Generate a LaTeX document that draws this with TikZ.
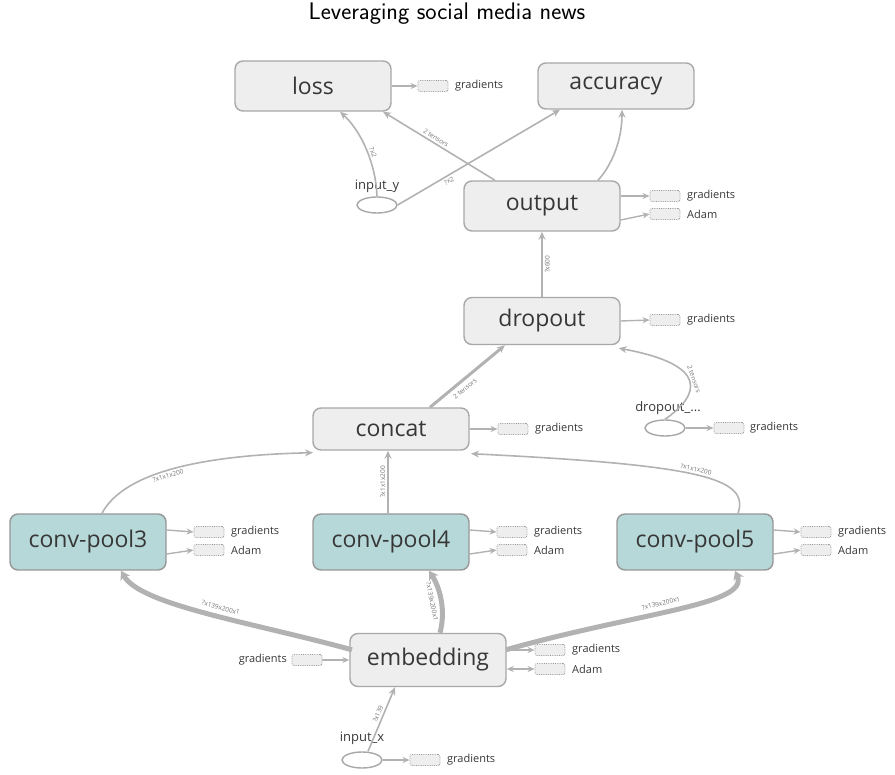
\documentclass[tikz,border=0pt]{standalone}
\usepackage{fontspec}
\newfontfamily\nodefont{Open Sans}
\usetikzlibrary{arrows.meta,shapes.geometric}
\definecolor{edgegray}{RGB}{178,178,178}
\definecolor{boxborder}{RGB}{168,168,168}
\definecolor{boxfill}{RGB}{238,238,238}
\definecolor{tealfill}{RGB}{182,216,216}
\definecolor{txt}{RGB}{55,55,55}
\tikzset{
  opbox/.style={draw=boxborder, line width=1.4pt, fill=boxfill, rounded corners=8pt,
    minimum width=156pt, minimum height=50pt, font=\nodefont\fontsize{23}{25}\selectfont, text=txt, inner sep=0pt},
  convbox/.style={opbox, fill=tealfill, draw=boxborder!90!black, minimum height=56pt},
  aux/.style={draw=gray!80, line width=0.8pt, densely dotted, fill=boxfill, rounded corners=2pt,
    minimum width=30pt, minimum height=11pt, inner sep=0pt},
  auxlab/.style={font=\nodefont\fontsize{11}{12}\selectfont, text=txt, anchor=west, inner sep=0pt},
  inoval/.style={draw=boxborder, line width=1.4pt, ellipse, minimum width=40pt, minimum height=16pt, inner sep=0pt},
  ovallab/.style={font=\nodefont\fontsize{13}{14}\selectfont, text=txt, inner sep=0pt},
  edge/.style={draw=edgegray, line width=1.6pt, -{Stealth[length=8pt,width=7pt]}},
  thickedge/.style={draw=edgegray, line width=5pt, -{Stealth[length=9pt,width=11pt]}},
  auxedge/.style={draw=edgegray, line width=1.4pt, -{Stealth[length=7pt,width=6pt]}},
  elab/.style={font=\nodefont\fontsize{6.5}{7}\selectfont, text=gray!90!black, sloped, inner sep=2pt}
}
\begin{document}
\begin{tikzpicture}[x=1pt,y=-1pt]
\useasboundingbox (0,0) rectangle (895,775);
\node[font=\sffamily\fontsize{24}{26}\selectfont] (title) at (447,14) {Leveraging social media news};

% main nodes
\node[opbox] (loss) at (313,86) {loss};
\node[opbox, minimum height=46pt] (acc) at (616,86) {accuracy};
\node[opbox] (out) at (542,206) {output};
\node[opbox, minimum height=47pt] (drop) at (542,321) {dropout};
\node[opbox, minimum height=42pt] (concat) at (391,429) {concat};
\node[convbox] (c3) at (88,542) {conv-pool3};
\node[convbox] (c4) at (391,542) {conv-pool4};
\node[convbox] (c5) at (695,542) {conv-pool5};
\node[opbox, minimum height=53pt] (emb) at (428,660) {embedding};

% input ovals
\node[inoval] (iy) at (377,205) {};
\node[ovallab] (iylab) at (377,186) {input\_y};
\node[inoval] (dd) at (665,428) {};
\node[ovallab] (ddlab) at (668,408) {dropout\_...};
\node[inoval] (ix) at (362,760) {};
\node[ovallab] (ixlab) at (362,738) {input\_x};

% aux boxes
\node[aux] (lossg) at (433,86) {};
\node[auxlab] (lossgl) at (455,86) {gradients};
\node[aux] (outg) at (665,196) {};
\node[auxlab] (outgl) at (687,196) {gradients};
\node[aux] (outa) at (665,214) {};
\node[auxlab] (outal) at (687,214) {Adam};
\node[aux] (dropg) at (665,320) {};
\node[auxlab] (dropgl) at (687,320) {gradients};
\node[aux] (ddg) at (729,428) {};
\node[auxlab] (ddgl) at (750,428) {gradients};
\node[aux] (concg) at (513,429) {};
\node[auxlab] (concgl) at (535,429) {gradients};
\node[aux] (c3g) at (209,532) {};
\node[auxlab] (c3gl) at (231,532) {gradients};
\node[aux] (c3a) at (209,550) {};
\node[auxlab] (c3al) at (231,550) {Adam};
\node[aux] (c4g) at (512,532) {};
\node[auxlab] (c4gl) at (534,532) {gradients};
\node[aux] (c4a) at (512,550) {};
\node[auxlab] (c4al) at (534,550) {Adam};
\node[aux] (c5g) at (816,532) {};
\node[auxlab] (c5gl) at (838,532) {gradients};
\node[aux] (c5a) at (816,550) {};
\node[auxlab] (c5al) at (838,550) {Adam};
\node[aux] (embgl) at (307,660) {};
\node[auxlab, anchor=east] (embgll) at (287,660) {gradients};
\node[aux] (embg) at (550,650) {};
\node[auxlab] (embgrl) at (572,650) {gradients};
\node[aux] (emba) at (550,669) {};
\node[auxlab] (embal) at (572,669) {Adam};
\node[aux] (ixg) at (425,760) {};
\node[auxlab] (ixgl) at (447,760) {gradients};

% aux connectors
\draw[auxedge] (loss.east) -- (lossg.west);
\draw[auxedge] ([yshift=10]out.east) -- (outg.west);
\draw[auxedge] ([yshift=-14]out.east) -- (outa.west);
\draw[auxedge] (drop.east) -- (dropg.west);
\draw[auxedge] (dd.east) -- (ddg.west);
\draw[auxedge] (concat.east) -- (concg.west);
\draw[auxedge] ([yshift=12]c3.east) -- (c3g.west);
\draw[auxedge] ([yshift=-12]c3.east) -- (c3a.west);
\draw[auxedge] ([yshift=12]c4.east) -- (c4g.west);
\draw[auxedge] ([yshift=-12]c4.east) -- (c4a.west);
\draw[auxedge] ([yshift=12]c5.east) -- (c5g.west);
\draw[auxedge] ([yshift=-12]c5.east) -- (c5a.west);
\draw[auxedge] (embgl.east) -- (emb.west);
\draw[auxedge] ([yshift=10]emb.east) -- (embg.west);
\draw[auxedge, {Stealth[length=7pt,width=6pt]}-{Stealth[length=7pt,width=6pt]}] ([yshift=-9]emb.east) -- (emba.west);
\draw[auxedge] (ix.east) -- (ixg.west);

% main connectors
\draw[edge] (iy.north) .. controls (376,165) and (362,132) .. ([xshift=27]loss.south)
  node[elab, pos=0.45, above] {?x2};
\draw[edge] ([xshift=-47]out.north) -- ([xshift=70]loss.south)
  node[elab, pos=0.55, above] {2 tensors};
\draw[edge] (iy.east) -- ([xshift=-56]acc.south)
  node[elab, pos=0.3, below] {?x2};
\draw[edge] ([xshift=56]out.north) .. controls (612,165) and (622,140) .. ([xshift=6]acc.south);
\draw[edge] (drop.north) -- (out.south)
  node[elab, midway, below] {?x600};
\draw[edge, line width=3pt] ([xshift=39]concat.north) -- ([xshift=-37]drop.south)
  node[elab, pos=0.4, below=2pt] {2 tensors};
\draw[edge] (dd.north) .. controls (700,395) and (710,365) .. ([xshift=-2,yshift=-3]drop.south east)
  node[elab, pos=0.5, above] {2 tensors};
\draw[edge] ([xshift=14]c3.north) .. controls (125,470) and (210,455) .. ([xshift=-78,yshift=-2]concat.south)
  node[elab, pos=0.45, below] {?x1x1x200};
\draw[edge] ([xshift=-3]c4.north) -- ([xshift=-3]concat.south)
  node[elab, midway, above] {?x1x1x200};
\draw[edge] ([xshift=43]c5.north) .. controls (750,478) and (700,465) .. ([xshift=80,yshift=-3]concat.south)
  node[elab, pos=0.5, above] {?x1x1x200};
\draw[thickedge] ([xshift=-76,yshift=-17]emb.north) .. controls (250,622) and (140,605) .. ([xshift=33]c3.south)
  node[elab, pos=0.45, above=2pt] {?x139x200x1};
\draw[thickedge] ([xshift=12]emb.north) .. controls (446,610) and (440,588) .. ([xshift=38]c4.south)
  node[elab, pos=0.5, below=2pt] {?x139x200x1};
\draw[thickedge] ([xshift=78,yshift=-17]emb.north) .. controls (640,612) and (750,605) .. ([xshift=40]c5.south)
  node[elab, pos=0.45, above=2pt] {?x139x200x1};
\draw[edge] ([xshift=6]ix.north) -- ([xshift=-33]emb.south)
  node[elab, pos=0.55, above] {?x139};
\end{tikzpicture}
\end{document}
